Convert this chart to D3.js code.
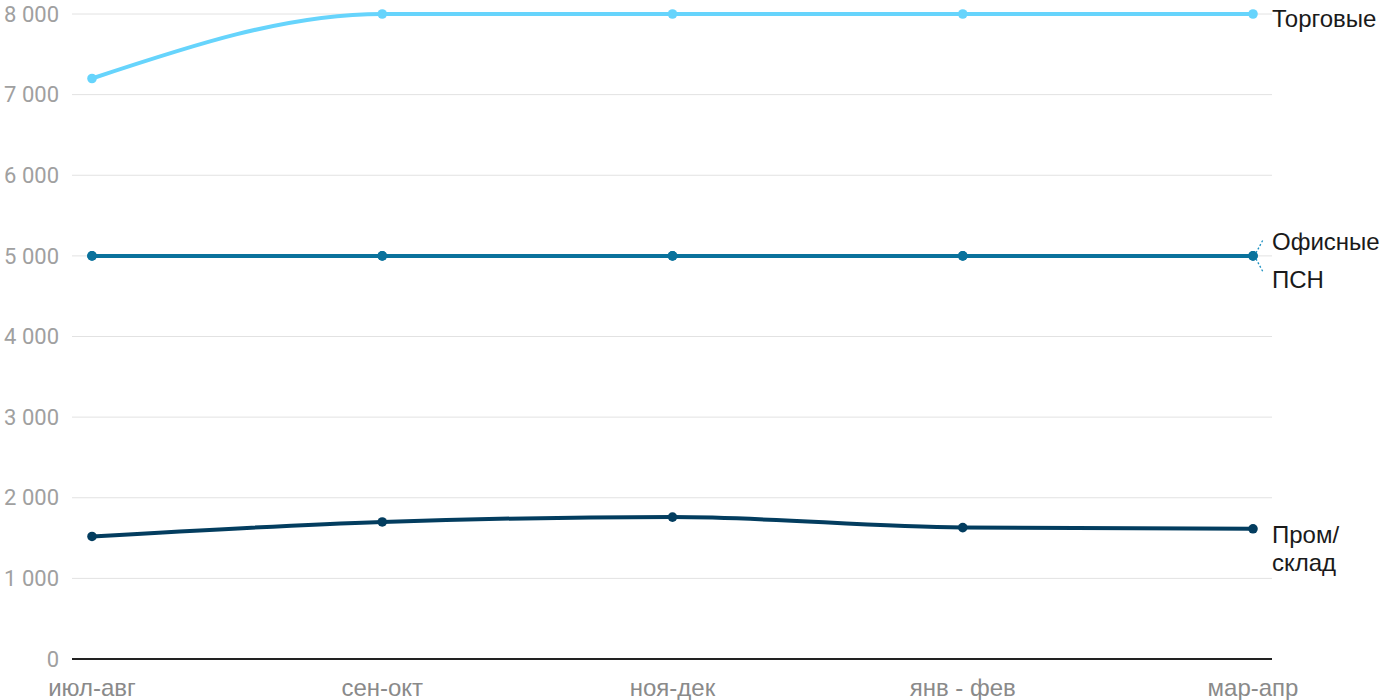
<!DOCTYPE html>
<html><head><meta charset="utf-8">
<script src="https://cdn.jsdelivr.net/npm/d3@7"></script>
<style>
body{margin:0;background:#fff;}
text{font-family:Roboto,"Noto Sans",sans-serif;}
.lab{font-family:"Liberation Sans",Arial,sans-serif;}
</style></head>
<body><svg id="c" width="1400" height="700"></svg>
<script>
const categories = ["июл-авг","сен-окт","ноя-дек","янв - фев","мар-апр"];
const seriesNames = ["Торговые","Офисные","ПСН","Пром/склад"];
const torgovye = [7200,8000,8000,8000,8000];
const ofisnye = [5000,5000,5000,5000,5000];
const psn = [5000,5000,5000,5000,5000];
const promsklad = [1520,1700,1760,1630,1615];
const yTicks = [0,1000,2000,3000,4000,5000,6000,7000,8000];
const colors = ["#66d4fc","#0a729c","#0a729c","#033d5f"];

const svg = d3.select("#c");
const x = d3.scalePoint().domain(categories).range([92,1253]);
const y = d3.scaleLinear().domain([0,8000]).range([659,14]);
const fmt = v => d3.format(",")(v).replace(/,/g," ");

svg.append("g").selectAll("line").data(yTicks.filter(d=>d>0)).join("line")
  .attr("x1",72).attr("x2",1272).attr("y1",d=>y(d)).attr("y2",d=>y(d))
  .attr("stroke","#e2e2e2").attr("stroke-width",1);
svg.append("g").selectAll("text").data(yTicks).join("text")
  .attr("x",59).attr("y",d=>y(d)).attr("dy","0.35em").attr("text-anchor","end")
  .attr("font-size",22).attr("fill","#a0a0a0").text(fmt);
svg.append("line").attr("x1",72).attr("x2",1272).attr("y1",y(0)).attr("y2",y(0))
  .attr("stroke","#222").attr("stroke-width",2);
svg.append("g").selectAll("text").data(categories).join("text").attr("class","lab")
  .attr("x",d=>x(d)).attr("y",688).attr("dy","0.35em").attr("text-anchor","middle")
  .attr("font-size",24).attr("fill","#8a8a8a").text(d=>d);

const data = [torgovye, ofisnye, psn, promsklad];
const line = d3.line().x((d,i)=>x(categories[i])).y(d=>y(d)).curve(d3.curveMonotoneX);
[3,2,1,0].forEach(k=>{
  const g = svg.append("g");
  g.append("path").attr("d",line(data[k])).attr("fill","none")
    .attr("stroke",colors[k]).attr("stroke-width",4);
  g.selectAll("circle").data(data[k]).join("circle")
    .attr("cx",(d,i)=>x(categories[i])).attr("cy",d=>y(d)).attr("r",4.8)
    .attr("fill",colors[k]);
});

const lx = 1272;
const last = categories[categories.length-1];
const lab = (yy,t)=>svg.append("text").attr("class","lab").attr("x",lx).attr("y",yy).attr("dy","0.35em")
  .attr("font-size",24).attr("fill","#1a1a1a").text(t);
lab(y(torgovye[4])+5, seriesNames[0]);
lab(y(ofisnye[4])-14, seriesNames[1]);
lab(y(psn[4])+24, seriesNames[2]);
const pt = svg.append("text").attr("class","lab").attr("x",lx).attr("y",y(promsklad[4])+14)
  .attr("font-size",24).attr("fill","#1a1a1a");
pt.append("tspan").attr("x",lx).attr("dy","0em").text("Пром/");
pt.append("tspan").attr("x",lx).attr("dy","1.17em").text("склад");
const px = x(last), py = y(ofisnye[4]);
[[1263,py-16],[1263,py+16]].forEach(p=>{
  svg.append("line").attr("x1",px+3).attr("y1",py+(p[1]<py?-3:3)).attr("x2",p[0]).attr("y2",p[1])
    .attr("stroke","#1a8fc0").attr("stroke-width",1.3).attr("stroke-dasharray","2,2");
});
</script></body></html>
